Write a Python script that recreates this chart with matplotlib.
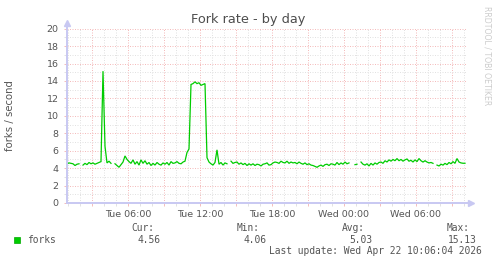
import numpy as np
import pandas as pd
import matplotlib
matplotlib.use('Agg')
import matplotlib.pyplot as plt
import matplotlib.dates as mdates
from matplotlib.patches import Rectangle

# fork rate samples, one every 10 minutes (NaN = no data)
nan = np.nan
forks = [
    4.5, 4.6, 4.55, 4.5, 4.3, 4.45, 4.5, nan, 4.35, 4.55,
    4.4, 4.65, 4.5, 4.6, 4.45, 4.55, 4.65, 4.75, 15.13, 6.5,
    4.6, 4.8, 4.55, nan, 4.5, 4.3, 4.1, 4.4, 4.7, 5.4,
    5.0, 4.75, 4.55, 4.95, 4.45, 4.75, 4.35, 4.95, 4.55, 4.85,
    4.45, 4.65, 4.3, 4.55, 4.35, 4.65, 4.45, 4.35, 4.6, 4.45,
    4.65, 4.35, 4.75, 4.55, 4.6, 4.75, 4.55, 4.5, 4.7, 4.8,
    5.8, 6.2, 13.6, 13.7, 13.9, 13.7, 13.8, 13.5, 13.6, 13.7,
    5.2, 4.7, 4.5, 4.35, 4.65, 6.1, 4.45, 4.65, 4.35, 4.6,
    4.5, nan, 4.8, 4.55, 4.65, 4.7, 4.45, 4.6, 4.4, 4.55,
    4.3, 4.5, 4.35, 4.5, 4.3, 4.45, 4.4, 4.25, 4.45, 4.5,
    4.6, 4.35, 4.4, 4.6, 4.7, 4.65, 4.55, 4.8, 4.65, 4.6,
    4.8, 4.55, 4.7, 4.6, 4.65, 4.5, 4.7, 4.55, 4.45, 4.6,
    4.4, 4.5, 4.35, 4.3, 4.2, 4.1, 4.25, 4.35, 4.2, 4.4,
    4.45, 4.3, 4.5, 4.45, 4.35, 4.65, 4.4, 4.6, 4.45, 4.7,
    4.5, 4.6, nan, nan, 4.4, 4.45, nan, 4.7, 4.45, 4.35,
    4.5, 4.25, 4.55, 4.35, 4.6, 4.45, 4.65, 4.7, 4.55, 4.85,
    4.7, 4.95, 4.8, 5.0, 4.85, 5.1, 4.85, 5.0, 4.8, 4.95,
    5.05, 4.8, 4.9, 4.7, 4.95, 4.75, 5.1, 4.85, 4.7, 4.85,
    4.7, 4.6, 4.65, 4.55, nan, 4.35, 4.25, 4.45, 4.35, 4.55,
    4.4, 4.65, 4.5, 4.75, 4.55, 5.1, 4.7, 4.6, 4.56, 4.56,
]
times = pd.date_range('2026-04-21 00:55', periods=len(forks), freq='10min')
view_start = pd.Timestamp('2026-04-21 00:55')
view_end = pd.Timestamp('2026-04-22 10:15')

stat_labels = ['Cur:', 'Min:', 'Avg:', 'Max:']
stat_values = ['4.56', '4.06', '5.03', '15.13']
last_update = 'Last update: Wed Apr 22 10:06:04 2026'

W, H = 497, 264
def fx(px):
    return px / W
def fy(py):
    return 1 - py / H

txt = '#555555'
axis_col = '#c8c8f2'
minor_col = '#e2e2e2'
major_col = '#f4bcbc'

fig = plt.figure(figsize=(W / 100, H / 100), dpi=100)
ax = fig.add_axes([fx(67), fy(203), 400 / W, 174.3 / H])

ax.plot(times, forks, color='#00cc00', lw=0.9, solid_joinstyle='miter')
ax.set_xlim(view_start, view_end)
ax.set_ylim(0, 20)

# grid: minor every hour / 1 unit, major every 3 hours / 2 units
ax.xaxis.set_major_locator(mdates.HourLocator(byhour=range(0, 24, 3)))
ax.xaxis.set_minor_locator(mdates.HourLocator())
fmt = mdates.DateFormatter('%a %H:%M')
ax.xaxis.set_major_formatter(plt.FuncFormatter(
    lambda v, p: fmt(v) if mdates.num2date(v).hour % 6 == 0 else ''))
ax.yaxis.set_major_locator(plt.MultipleLocator(2))
ax.yaxis.set_minor_locator(plt.MultipleLocator(1))
ax.grid(which='minor', color=minor_col, lw=0.72, linestyle=(0, (1, 1.5)))
ax.grid(which='major', color=major_col, lw=0.72, linestyle=(0, (1, 1.5)))
ax.set_axisbelow(True)

ax.tick_params(which='both', length=2, width=0.7, colors=major_col,
               labelcolor=txt, labelsize=6.8, pad=3)
ax.tick_params(which='minor', colors=minor_col)
ax.tick_params(axis='y', pad=4)

for s in ax.spines.values():
    s.set_visible(False)
# axes with arrows
ax.plot([0, 0], [0, 1.02], transform=ax.transAxes, color=axis_col, lw=1.4, clip_on=False)
ax.plot([0, 1.005], [0, 0], transform=ax.transAxes, color=axis_col, lw=1.4, clip_on=False)
ax.plot([0], [1.035], marker='^', ms=4.5, color=axis_col, transform=ax.transAxes, clip_on=False)
ax.plot([1.01], [0], marker='>', ms=4.5, color=axis_col, transform=ax.transAxes, clip_on=False)

fig.text(fx(248.5), fy(19), 'Fork rate - by day', ha='center', va='center',
         fontsize=9.3, color='#4d4d4d')
fig.text(fx(10), fy(116), 'forks / second', ha='center', va='center',
         rotation=90, fontsize=7.3, color=txt)
fig.text(fx(487), fy(56), 'RRDTOOL / TOBI OETIKER', ha='center', va='center',
         rotation=270, fontsize=5.6, color='#cccccc')

# legend and stats
mono = 'DejaVu Sans Mono'
fig.patches.append(Rectangle((fx(14), fy(243)), 6 / W, 6 / H, transform=fig.transFigure,
                             facecolor='#00cc00', edgecolor='#00aa00', lw=0.5))
fig.text(fx(27), fy(240), 'forks', ha='left', va='center', family=mono,
         fontsize=6.9, color=txt)
label_right = [154, 260, 365, 470]
value_right = [160, 266, 372, 477]
for lab, val, lx, vx in zip(stat_labels, stat_values, label_right, value_right):
    fig.text(fx(lx), fy(228), lab, ha='right', va='center', family=mono,
             fontsize=6.9, color=txt)
    fig.text(fx(vx), fy(240), val, ha='right', va='center', family=mono,
             fontsize=6.9, color=txt)
fig.text(fx(482), fy(251.5), last_update, ha='right', va='center', family=mono,
         fontsize=6.9, color=txt)

fig.savefig('out.png', dpi=100)
